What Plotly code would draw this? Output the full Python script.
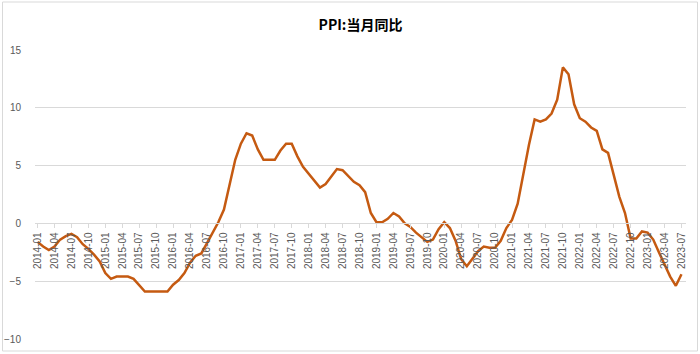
import plotly.graph_objects as go

months = [f"{y}-{m:02d}" for y in range(2014, 2024) for m in range(1, 13)][:115]

ppi = [
    -1.6, -2.0, -2.3, -2.0, -1.4, -1.1, -0.9, -1.2, -1.8, -2.2, -2.7, -3.3,
    -4.3, -4.8, -4.6, -4.6, -4.6, -4.8, -5.4, -5.9, -5.9, -5.9, -5.9, -5.9,
    -5.3, -4.9, -4.3, -3.4, -2.8, -2.6, -1.7, -0.8, 0.1, 1.2, 3.3, 5.5,
    6.9, 7.8, 7.6, 6.4, 5.5, 5.5, 5.5, 6.3, 6.9, 6.9, 5.8, 4.9,
    4.3, 3.7, 3.1, 3.4, 4.1, 4.7, 4.6, 4.1, 3.6, 3.3, 2.7, 0.9,
    0.1, 0.1, 0.4, 0.9, 0.6, 0.0, -0.3, -0.8, -1.2, -1.6, -1.4, -0.5,
    0.1, -0.4, -1.5, -3.1, -3.7, -3.0, -2.4, -2.0, -2.1, -2.1, -1.5, -0.4,
    0.3, 1.7, 4.4, 6.8, 9.0, 8.8, 9.0, 9.5, 10.7, 13.5, 12.9, 10.3,
    9.1, 8.8, 8.3, 8.0, 6.4, 6.1, 4.2, 2.3, 0.9, -1.3, -1.3, -0.7,
    -0.8, -1.4, -2.5, -3.6, -4.6, -5.4, -4.4,
]

tick_labels = months[::3]
y_ticks = [-10, -5, 0, 5, 10, 15]

fig = go.Figure()
fig.add_trace(go.Scatter(
    x=months, y=ppi, mode="lines",
    line=dict(color="#C55A11", width=2.5),
    hoverinfo="x+y", showlegend=False,
))

L, R, T, B = 35, 14, 50, 15
W, H = 700, 354
pw, ph = W - L - R, H - T - B

fig.update_layout(
    width=W, height=H,
    margin=dict(l=L, r=R, t=T, b=B, autoexpand=False),
    paper_bgcolor="white", plot_bgcolor="white",
    title=dict(
        text="<b>PPI:当月同比</b>",
        x=0.5, xref="paper", xanchor="center",
        y=1 - 25 / H, yref="container", yanchor="middle",
        font=dict(family="Noto Sans CJK SC", size=14, color="#000000"),
    ),
    xaxis=dict(
        type="category",
        range=[-0.45, 114.8],
        tickmode="array", tickvals=tick_labels, ticktext=tick_labels,
        tickangle=-90,
        tickfont=dict(family="Liberation Sans", size=10, color="#595959"),
        showgrid=False,
        showline=True, linecolor="#d9d9d9", linewidth=1,
        ticks="outside", ticklen=4, tickcolor="#d9d9d9",
        anchor="free", position=10 / 25,
        zeroline=False, automargin=False,
    ),
    yaxis=dict(
        range=[-10, 15],
        tickmode="array", tickvals=y_ticks,
        tickfont=dict(family="Liberation Sans", size=10, color="#595959"),
        showgrid=True, gridcolor="#d9d9d9", gridwidth=1,
        showline=False, zeroline=False,
        ticks="", ticklabelstandoff=13, automargin=False,
    ),
    shapes=[dict(
        type="rect", xref="paper", yref="paper",
        x0=(2.5 - L) / pw, x1=(697.5 - L) / pw,
        y0=(H - B - 351) / ph, y1=(H - B - 2) / ph,
        line=dict(color="#d9d9d9", width=1), fillcolor="rgba(0,0,0,0)",
        layer="below",
    )],
)

fig.write_html("out.html")
